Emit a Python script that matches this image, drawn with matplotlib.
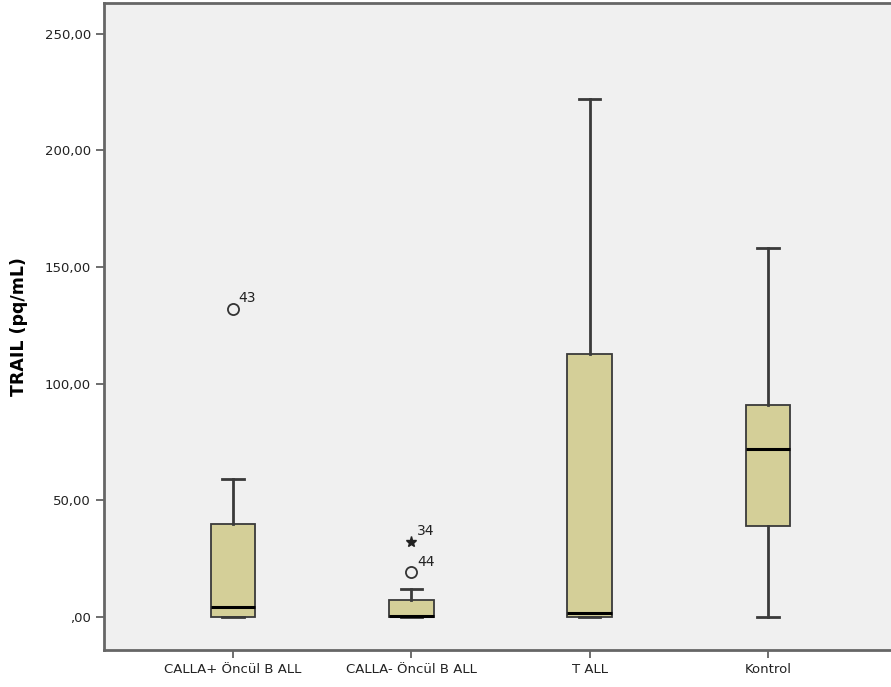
import matplotlib
matplotlib.use("Agg")
import matplotlib.pyplot as plt

# group names and box statistics
groups = ["CALLA+ Öncül B ALL", "CALLA- Öncül B ALL", "T ALL", "Kontrol"]
whis_lo = [0, 0, 0, 0]
q1 = [0, 0, 0, 39]
med = [4.2, 0.3, 1.5, 72]
q3 = [40, 7, 112.5, 91]
whis_hi = [59, 12, 222, 158]

# outliers: (group index, value, case label, marker)
out_group = [0, 1, 1]
out_value = [132, 19, 32]
out_label = ["43", "44", "34"]
out_marker = ["o", "o", "*"]

yticks = [0, 50, 100, 150, 200, 250]
ytick_labels = [",00", "50,00", "100,00", "150,00", "200,00", "250,00"]

plt.rcParams["font.family"] = ["DejaVu Sans"]

fig = plt.figure(figsize=(8.91, 6.87), dpi=100)
ax = fig.add_axes([0.1167, 0.054, 0.8833, 0.942])
ax.set_facecolor("#f0f0f0")

stats = []
for i in range(len(groups)):
    stats.append({"whislo": whis_lo[i], "q1": q1[i], "med": med[i], "q3": q3[i],
                  "whishi": whis_hi[i], "fliers": []})

edge = "#3a3a3a"
ax.bxp(stats, positions=range(1, len(groups) + 1), widths=0.25, patch_artist=True,
       showfliers=False,
       boxprops=dict(facecolor="#d4cf98", edgecolor=edge, linewidth=1.3),
       medianprops=dict(color="black", linewidth=2.2),
       whiskerprops=dict(color=edge, linewidth=2),
       capprops=dict(color=edge, linewidth=2),
       capwidths=0.12)

for g, v, lab, m in zip(out_group, out_value, out_label, out_marker):
    x = g + 1
    if m == "o":
        ax.plot(x, v, "o", mfc="none", mec="#333333", ms=8, mew=1.3)
    else:
        ax.plot(x, v, "*", color="#222222", ms=8)
    ax.annotate(lab, (x, v), xytext=(4, 5), textcoords="offset points",
                fontsize=10, color="#222222")

ax.set_xlim(0.2765, 4.69)
ax.set_ylim(-14.2, 263.3)
ax.set_xticks(range(1, len(groups) + 1))
ax.set_xticklabels(groups, fontsize=9.5, color="#222222")
ax.set_yticks(yticks)
ax.set_yticklabels(ytick_labels, fontsize=9.5, color="#222222")
ax.tick_params(direction="out", length=6, width=1.2, color="#555555")
ax.set_ylabel("TRAIL (pq/mL)", fontsize=12.5, fontweight="bold", labelpad=12)

for s in ax.spines.values():
    s.set_color("#666666")
    s.set_linewidth(2)
ax.spines["right"].set_visible(False)

fig.savefig("out.png", dpi=100)
